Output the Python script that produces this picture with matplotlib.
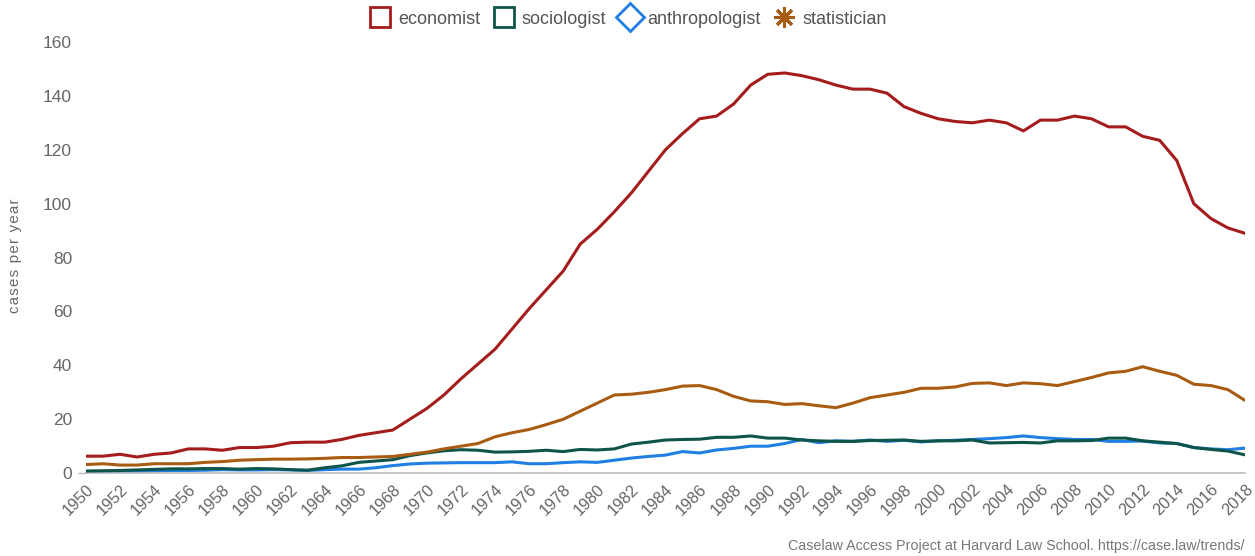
import matplotlib
matplotlib.use("Agg")
import matplotlib.pyplot as plt
from matplotlib.lines import Line2D

plt.rcParams['font.family'] = ['Liberation Sans', 'DejaVu Sans']

years = list(range(1950, 2019))

economist = [6.3, 6.3, 7, 6, 7, 7.5, 9, 9, 8.5, 9.5,
             9.5, 10, 11.3, 11.5, 11.5, 12.5, 14, 15, 16, 20,
             24, 29, 35, 40.5, 46, 53.5, 61, 68, 75, 85,
             90.5, 97, 104, 112, 120, 126, 131.5, 132.5, 137, 144,
             148, 148.5, 147.5, 146, 144, 142.5, 142.5, 141, 136, 133.5,
             131.5, 130.5, 130, 131, 130, 127, 131, 131, 132.5, 131.5,
             128.5, 128.5, 125, 123.5, 116, 100, 94.5, 91, 89]

sociologist = [0.8, 0.9, 1, 1.2, 1.4, 1.6, 1.6, 1.7, 1.7, 1.5,
               1.7, 1.6, 1.3, 1.1, 2, 2.7, 4, 4.5, 5, 6.5,
               7.5, 8.3, 8.7, 8.5, 7.8, 7.9, 8.1, 8.5, 8, 8.8,
               8.6, 9, 10.8, 11.5, 12.3, 12.5, 12.6, 13.3, 13.3, 13.8,
               13, 13, 12.3, 12, 11.8, 11.8, 12.1, 12.2, 12.3, 11.8,
               12, 12, 12.3, 11.2, 11.3, 11.4, 11.2, 12, 12, 12.1,
               13, 13, 12, 11.5, 11, 9.5, 8.8, 8.2, 6.8]

anthropologist = [0.3, 0.3, 0.5, 0.6, 0.8, 1, 1, 1.1, 1.3, 1.2,
                  1.2, 1.3, 1.2, 1, 1.3, 1.5, 1.5, 2, 2.8, 3.4,
                  3.7, 3.8, 3.9, 3.9, 3.9, 4.2, 3.5, 3.5, 3.9, 4.2,
                  4, 4.8, 5.6, 6.2, 6.7, 8, 7.5, 8.6, 9.2, 10,
                  10, 11, 12.5, 11.3, 12, 11.8, 12.3, 11.8, 12.2, 11.6,
                  12, 12.2, 12.5, 12.8, 13.2, 13.8, 13.2, 12.8, 12.5, 12.5,
                  11.8, 11.8, 11.9, 11.2, 11, 9.5, 9, 8.7, 9.3]

statistician = [3.2, 3.5, 3, 3, 3.5, 3.5, 3.5, 4, 4.3, 4.8,
                5, 5.2, 5.2, 5.3, 5.5, 5.8, 5.8, 6, 6.2, 7,
                7.8, 9, 10, 11, 13.5, 15, 16.2, 18, 20, 23,
                26, 29, 29.3, 30, 31, 32.3, 32.5, 31, 28.5, 26.8,
                26.5, 25.5, 25.8, 25, 24.3, 26, 28, 29, 30, 31.5,
                31.5, 32, 33.3, 33.5, 32.5, 33.5, 33.2, 32.5, 34, 35.5,
                37.2, 37.8, 39.5, 37.8, 36.3, 33, 32.5, 31, 27]

series_names = ['economist', 'sociologist', 'anthropologist', 'statistician']
colors = ['#a51c1c', '#0f5448', '#1f7fe3', '#a85c12']
markers = ['s', 's', 'D', (8, 2, 0)]

yticks = [0, 20, 40, 60, 80, 100, 120, 140, 160]
xticks = list(range(1950, 2019, 2))

fig = plt.figure(figsize=(12.55, 5.56), dpi=100)
ax = fig.add_axes([0.0685, 0.149, 0.9235, 0.7755])

data = [economist, sociologist, anthropologist, statistician]
zorders = [4, 3, 2, 3.5]
for name, vals, c, z in zip(series_names, data, colors, zorders):
    ax.plot(years, vals, color=c, lw=2.2, solid_joinstyle='round',
            solid_capstyle='round', zorder=z)

ax.set_xlim(1950, 2018)
ax.set_ylim(0, 160)
ax.set_yticks(yticks)
ax.set_xticks(xticks)
ax.set_xticklabels([str(x) for x in xticks], rotation=45, ha='right',
                   rotation_mode='anchor')
for s in ['top', 'right', 'left']:
    ax.spines[s].set_visible(False)
ax.spines['bottom'].set_color('#bbbbbb')
ax.spines['bottom'].set_linewidth(1.2)
ax.tick_params(axis='x', length=0, pad=6, labelsize=11.8, colors='#666666')
ax.tick_params(axis='y', length=6, width=1, color='#bbbbbb', pad=4,
               labelsize=12.5, labelcolor='#666666')
for i, t in enumerate(ax.yaxis.get_major_ticks()):
    if i != 0:
        t.tick1line.set_visible(False)

ylab = '\u200a'.join('cases per year')
ax.set_ylabel(ylab, fontsize=10.8, color='#666666',
              family=['Liberation Sans', 'DejaVu Sans'])
ax.yaxis.set_label_coords(-0.055, 0.505)

handles = []
for name, c, m in zip(series_names, colors, markers):
    if name == 'statistician':
        h = Line2D([], [], linestyle='none', marker=m, markersize=15,
                   markeredgecolor=c, markerfacecolor=c, markeredgewidth=2.2)
    else:
        h = Line2D([], [], linestyle='none', marker=m, markersize=14,
                   markeredgecolor=c, markerfacecolor='white', markeredgewidth=2)
    handles.append(h)

fig.legend(handles, series_names, loc='upper center', ncol=4,
           bbox_to_anchor=(0.5, 1.01), frameon=False, fontsize=13,
           labelcolor='#555555', handletextpad=0.35, columnspacing=0.65,
           handlelength=1.3)

fig.text(0.992, 0.006, 'Caselaw Access Project at Harvard Law School. https://case.law/trends/',
         ha='right', va='bottom', fontsize=10.3, color='#777777')

fig.savefig('out.png', dpi=100)
